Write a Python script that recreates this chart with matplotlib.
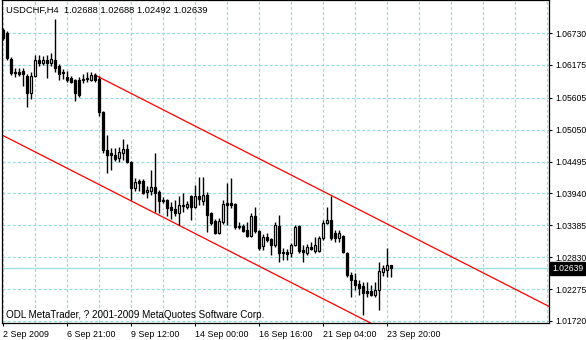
import matplotlib
matplotlib.use("Agg")
import matplotlib.pyplot as plt
from matplotlib.ticker import FixedLocator, MultipleLocator
import matplotlib.transforms as mtransforms

plt.rcParams['font.family'] = ['Liberation Sans', 'DejaVu Sans']
plt.rcParams['lines.scale_dashes'] = False

# ---------------- data (USDCHF H4) ----------------
opens = [1.06783, 1.06731, 1.06278, 1.06052, 1.06052, 1.06070, 1.05983, 1.05687, 1.05983, 1.06261,
         1.06209, 1.06261, 1.06209, 1.06261, 1.06157, 1.06052, 1.05965, 1.05948, 1.05913, 1.05913,
         1.05913, 1.05930, 1.05913, 1.06000, 1.05930, 1.05356, 1.04695, 1.04643, 1.04608, 1.04556,
         1.04643, 1.04712, 1.04486, 1.04034, 1.04156, 1.04156, 1.03964, 1.03982, 1.04051, 1.03964,
         1.03825, 1.03825, 1.03703, 1.03668, 1.03599, 1.03721, 1.03703, 1.03895, 1.03703, 1.03895,
         1.03808, 1.03912, 1.03599, 1.03460, 1.03251, 1.03442, 1.03773, 1.03773, 1.03755, 1.03373,
         1.03373, 1.03303, 1.03199, 1.03547, 1.03286, 1.03025, 1.03181, 1.03146, 1.03042, 1.03373,
         1.02920, 1.02920, 1.02903, 1.03042, 1.03373, 1.02955, 1.02903, 1.03007, 1.02938, 1.02938,
         1.03164, 1.03425, 1.03477, 1.03251, 1.03164, 1.03199, 1.02903, 1.02520, 1.02433, 1.02363,
         1.02329, 1.02242, 1.02242, 1.02172, 1.02259, 1.02572, 1.02607, 1.02688]
highs = [1.06818, 1.06766, 1.06313, 1.06122, 1.06122, 1.06122, 1.06017, 1.06052, 1.06348, 1.06348,
         1.06331, 1.06348, 1.06383, 1.06974, 1.06191, 1.06104, 1.06070, 1.05983, 1.05930, 1.05965,
         1.06017, 1.06052, 1.06052, 1.06035, 1.05983, 1.05374, 1.04956, 1.04730, 1.04730, 1.04747,
         1.04886, 1.04799, 1.04504, 1.04208, 1.04190, 1.04190, 1.04069, 1.04347, 1.04643, 1.03999,
         1.03877, 1.03842, 1.03790, 1.03825, 1.03895, 1.03947, 1.03808, 1.03912, 1.04086, 1.04225,
         1.04225, 1.03964, 1.03616, 1.03494, 1.03512, 1.03825, 1.04121, 1.04208, 1.03773, 1.03442,
         1.03407, 1.03442, 1.03599, 1.03703, 1.03303, 1.03233, 1.03251, 1.03164, 1.03442, 1.03564,
         1.02990, 1.02972, 1.03077, 1.03390, 1.03390, 1.03042, 1.03059, 1.03094, 1.03181, 1.03199,
         1.03477, 1.03703, 1.03895, 1.03303, 1.03303, 1.03216, 1.02920, 1.02572, 1.02555, 1.02433,
         1.02398, 1.02398, 1.02346, 1.02398, 1.02746, 1.02694, 1.02990, 1.02688]
lows = [1.06609, 1.06261, 1.06000, 1.05965, 1.05983, 1.05809, 1.05443, 1.05582, 1.05965, 1.06157,
        1.06174, 1.05948, 1.06157, 1.06052, 1.05913, 1.05930, 1.05878, 1.05861, 1.05548, 1.05617,
        1.05861, 1.05878, 1.05896, 1.05878, 1.05287, 1.04643, 1.04295, 1.04347, 1.04504, 1.04486,
        1.04521, 1.04469, 1.03825, 1.03982, 1.03982, 1.03929, 1.03860, 1.03912, 1.03616, 1.03599,
        1.03773, 1.03547, 1.03494, 1.03547, 1.03390, 1.03616, 1.03668, 1.03477, 1.03686, 1.03738,
        1.03738, 1.03268, 1.03390, 1.03233, 1.03233, 1.03407, 1.03390, 1.03686, 1.03320, 1.03320,
        1.03268, 1.03181, 1.03181, 1.03251, 1.02955, 1.02955, 1.03094, 1.02868, 1.03007, 1.02746,
        1.02781, 1.02781, 1.02833, 1.03025, 1.02903, 1.02746, 1.02868, 1.02955, 1.02903, 1.02920,
        1.03129, 1.03407, 1.03129, 1.03094, 1.03094, 1.02903, 1.02485, 1.02137, 1.02259, 1.02172,
        1.01824, 1.02137, 1.02155, 1.02137, 1.01911, 1.02503, 1.02485, 1.02492]
closes = [1.06644, 1.06296, 1.06035, 1.06035, 1.06017, 1.06017, 1.05687, 1.05983, 1.06261, 1.06209,
          1.06261, 1.06209, 1.06278, 1.06122, 1.06017, 1.06035, 1.05913, 1.05878, 1.05687, 1.05652,
          1.05930, 1.05948, 1.06000, 1.05913, 1.05356, 1.04695, 1.04608, 1.04608, 1.04538, 1.04660,
          1.04712, 1.04486, 1.04034, 1.04138, 1.04121, 1.03947, 1.03999, 1.04051, 1.03947, 1.03808,
          1.03808, 1.03686, 1.03651, 1.03599, 1.03738, 1.03738, 1.03755, 1.03703, 1.03895, 1.03842,
          1.03912, 1.03564, 1.03425, 1.03251, 1.03460, 1.03755, 1.03738, 1.03738, 1.03355, 1.03355,
          1.03286, 1.03199, 1.03547, 1.03286, 1.02990, 1.03181, 1.03129, 1.03042, 1.03390, 1.02903,
          1.02903, 1.02885, 1.03042, 1.03355, 1.02938, 1.02920, 1.03007, 1.02972, 1.03042, 1.03164,
          1.03425, 1.03477, 1.03164, 1.03164, 1.03251, 1.02920, 1.02520, 1.02433, 1.02346, 1.02294,
          1.02207, 1.02207, 1.02172, 1.02259, 1.02590, 1.02642, 1.02694, 1.02639]

bid_price = 1.02639
y_ticks = [1.06730, 1.06175, 1.05605, 1.05050, 1.04495, 1.03940, 1.03385, 1.02830, 1.02275, 1.01720]
y_labels = ["1.06730", "1.06175", "1.05605", "1.05050", "1.04495", "1.03940", "1.03385",
            "1.02830", "1.02275", "1.01720"]
x_tick_bars = [0, 16, 32, 48, 64, 80, 96]
x_labels = ["2 Sep 2009", "6 Sep 21:00", "9 Sep 12:00", "14 Sep 00:00", "16 Sep 16:00",
            "21 Sep 04:00", "23 Sep 20:00"]
channel_x = [-0.33, 136.4]
upper_x = [22.9, 136.4]
upper_y = [1.06000, 1.01974]
lower_y = [1.04956, 1.00101]

header = "USDCHF,H4  1.02688 1.02688 1.02492 1.02639"
footer = "ODL MetaTrader, ? 2001-2009 MetaQuotes Software Corp."

# ---------------- figure ----------------
W, H = 586, 340
fig = plt.figure(figsize=(W / 100, H / 100), dpi=100)
ax = fig.add_axes([1.5 / W, (H - 323) / H, (548.7 - 1.5) / W, 323 / H])
ax.set_xlim(-0.45, 136.35)
ax.set_ylim(1.01685, 1.07305)

grid_col = '#9cdede'
ax.xaxis.set_major_locator(FixedLocator(x_tick_bars))
ax.xaxis.set_minor_locator(MultipleLocator(8))
ax.set_xticklabels(x_labels)
ax.yaxis.set_major_locator(FixedLocator(y_ticks))
ax.set_yticklabels(y_labels)
ax.yaxis.tick_right()
ax.grid(True, which='both', color=grid_col, linewidth=0.9, linestyle=(0, (2.2, 1.5)), zorder=0)
ax.set_axisbelow(True)
ax.tick_params(axis='x', which='minor', length=0)
ax.tick_params(axis='x', which='major', direction='out', length=2.5, width=0.8, pad=2.2,
               labelsize=6.4, colors='black')
ax.tick_params(axis='y', which='major', direction='out', length=2.5, width=0.8, pad=2.2,
               labelsize=6.2, colors='black')
for lab in ax.get_xticklabels():
    lab.set_horizontalalignment('left')
for s in ax.spines.values():
    s.set_color('black')
    s.set_linewidth(0.9)

# bid line
ax.axhline(bid_price, color='#9ee2e2', linewidth=1.0, zorder=1)

# channel lines
ax.plot(upper_x, upper_y, color='red', linewidth=0.9, zorder=2)
ax.plot(channel_x, lower_y, color='red', linewidth=0.9, zorder=2)

# candles
xs = list(range(len(opens)))
ax.vlines(xs, lows, highs, color='black', linewidth=1.0, zorder=3)
bottoms = [min(o, c) for o, c in zip(opens, closes)]
heights = [max(abs(c - o), 0.00002) for o, c in zip(opens, closes)]
faces = ['white' if c > o else 'black' for o, c in zip(opens, closes)]
ax.bar(xs, heights, bottom=bottoms, width=0.58, color=faces, edgecolor='black',
       linewidth=0.9, zorder=4)

# bid label
trans = mtransforms.offset_copy(ax.get_yaxis_transform(), fig=fig, x=3.5, y=0, units='dots')
ax.text(1.0, bid_price, "1.02639", transform=trans, ha='left', va='center', color='white',
        fontsize=6.2, bbox=dict(boxstyle='square,pad=0.25', facecolor='black', edgecolor='black'),
        zorder=10, clip_on=False)

# header/footer
fig.text(6 / W, 1 - 10 / H, header, ha='left', va='center', fontsize=6.75, color='black')
fig.text(6 / W, 1 - 315 / H, footer, ha='left', va='center', fontsize=7.1, color='black')

fig.savefig("out.png", dpi=100)
